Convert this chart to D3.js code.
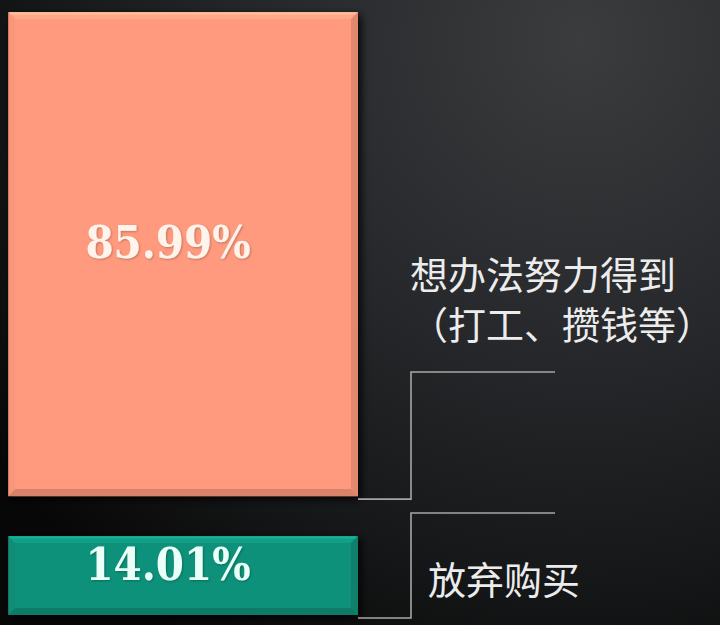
<!DOCTYPE html>
<html>
<head>
<meta charset="utf-8">
<script src="https://cdn.jsdelivr.net/npm/d3@7"></script>
<style>
  html, body { margin: 0; padding: 0; background: #111; }
  svg { display: block; }
</style>
</head>
<body>
<svg id="chart"></svg>
<script>
// stacked column, bottom segment first
const categories = ["放弃购买", "想办法努力得到"];
const values = [14.01, 85.99];
const valueLabels = ["14.01%", "85.99%"];
const labelLines = [["放弃购买"], ["想办法努力得到", "（打工、攒钱等）"]];

const width = 720, height = 625;
const plotTop = 12, plotBottom = 615, gap = 40;

const svg = d3.select("#chart")
  .attr("width", width)
  .attr("height", height);

const defs = svg.append("defs");

const bg = defs.append("radialGradient")
  .attr("id", "bg")
  .attr("gradientUnits", "userSpaceOnUse")
  .attr("cx", 580).attr("cy", 40).attr("r", 720);
bg.append("stop").attr("offset", "0%").attr("stop-color", "#3b3c3e");
bg.append("stop").attr("offset", "45%").attr("stop-color", "#26272a");
bg.append("stop").attr("offset", "75%").attr("stop-color", "#161718");
bg.append("stop").attr("offset", "100%").attr("stop-color", "#070707");

const shadow = defs.append("filter")
  .attr("id", "shadow")
  .attr("x", "-10%").attr("y", "-10%")
  .attr("width", "130%").attr("height", "130%");
shadow.append("feDropShadow")
  .attr("dx", 3).attr("dy", 3)
  .attr("stdDeviation", 4)
  .attr("flood-color", "#000")
  .attr("flood-opacity", 0.9);

const glow = defs.append("filter").attr("id", "glow");
glow.append("feGaussianBlur").attr("in", "SourceAlpha").attr("stdDeviation", 1.2).attr("result", "b");
glow.append("feOffset").attr("in", "b").attr("dx", 1).attr("dy", 1).attr("result", "o");
glow.append("feFlood").attr("flood-color", "#000").attr("flood-opacity", 0.25);
glow.append("feComposite").attr("in2", "o").attr("operator", "in").attr("result", "s");
const gm = glow.append("feMerge");
gm.append("feMergeNode").attr("in", "s");
gm.append("feMergeNode").attr("in", "SourceGraphic");

svg.append("rect")
  .attr("width", width).attr("height", height)
  .attr("fill", "url(#bg)");

const x = d3.scaleBand().domain(["share"]).range([8, 358]).padding(0);
const y = d3.scaleLinear().domain([0, d3.sum(values)]).range([plotBottom, plotTop + gap]);
const color = d3.scaleOrdinal().domain(categories).range(["#11917a", "#ff9a7e"]);

const stacked = d3.stack().keys(categories)([
  Object.fromEntries(categories.map((c, i) => [c, values[i]]))
]);

// bar geometry: lower segment at its place, upper segments shifted up by the gap
const bars = stacked.map((s, i) => {
  const shift = i === 0 ? 0 : gap;
  const y0 = y(s[0][1]) - shift, y1 = y(s[0][0]) - shift;
  return { key: s.key, i, x0: x("share"), x1: x("share") + x.bandwidth(), y0, y1 };
});

function bevelBar(g, b, c) {
  const base = d3.color(c);
  const bw = 7;
  const { x0, x1, y0, y1 } = b;
  g.append("rect")
    .attr("x", x0).attr("y", y0)
    .attr("width", x1 - x0).attr("height", y1 - y0)
    .attr("fill", base)
    .attr("filter", "url(#shadow)");
  const poly = (pts, fill) => g.append("polygon")
    .attr("points", pts.map(p => p.join(",")).join(" "))
    .attr("fill", fill);
  poly([[x0, y0], [x1, y0], [x1 - bw, y0 + bw], [x0 + bw, y0 + bw]], base.brighter(0.25));
  poly([[x1, y0], [x1, y1], [x1 - bw, y1 - bw], [x1 - bw, y0 + bw]], base.darker(0.35));
  poly([[x0, y1], [x1, y1], [x1 - bw, y1 - bw], [x0 + bw, y1 - bw]], base.darker(0.45));
  poly([[x0, y0], [x0 + bw, y0 + bw], [x0 + bw, y1 - bw], [x0, y1]], base.darker(0.08));
  g.append("line")
    .attr("x1", x0 + 2).attr("x2", x1 - 2)
    .attr("y1", y0 + 1.5).attr("y2", y0 + 1.5)
    .attr("stroke", base.brighter(0.6)).attr("stroke-width", 2);
  g.append("line")
    .attr("x1", x0 + 0.5).attr("x2", x0 + 0.5)
    .attr("y1", y0).attr("y2", y1)
    .attr("stroke", base.darker(0.6)).attr("stroke-width", 1);
}

const barG = svg.append("g");
bars.forEach(b => bevelBar(barG.append("g"), b, color(b.key)));

// percentage labels
svg.append("g").selectAll("text")
  .data(bars)
  .join("text")
  .attr("x", d => (d.x0 + d.x1) / 2 - 15)
  .attr("y", d => (d.y0 + d.y1) / 2 + 4)
  .attr("text-anchor", "middle")
  .attr("font-family", "'DejaVu Serif', serif")
  .attr("font-stretch", "condensed")
  .attr("font-weight", "bold")
  .attr("font-size", 45)
  .attr("fill", d => d.i === 0 ? "#e9fff7" : "#fff4ec")
  .attr("filter", "url(#glow)")
  .text(d => valueLabels[d.i]);

// connectors
const lineX = 411, lineEnd = 555;
const upper = bars[1], lower = bars[0];
const conn = svg.append("g")
  .attr("fill", "none")
  .attr("stroke", "#a6a6a6")
  .attr("stroke-width", 1.6);
conn.append("path")
  .attr("d", d3.line()([[upper.x1, upper.y1 + 3], [lineX, upper.y1 + 3], [lineX, 372], [lineEnd, 372]]));
conn.append("path")
  .attr("d", d3.line()([[lineEnd, 513], [lineX, 513], [lineX, lower.y1 + 3], [lower.x1, lower.y1 + 3]]));

// category labels, one text per line
const labelPos = [{ x: 428, y: 594 }, { x: 410, y: 289 }];
const lineStep = 50;
const labG = svg.append("g")
  .attr("font-family", "'Noto Sans CJK SC', sans-serif")
  .attr("font-size", 38)
  .attr("fill", "#ececec");
labelLines.forEach((lines, i) => {
  labG.selectAll(null)
    .data(lines)
    .join("text")
    .attr("x", labelPos[i].x)
    .attr("y", (d, j) => labelPos[i].y + j * lineStep)
    .text(d => d);
});
</script>
</body>
</html>
